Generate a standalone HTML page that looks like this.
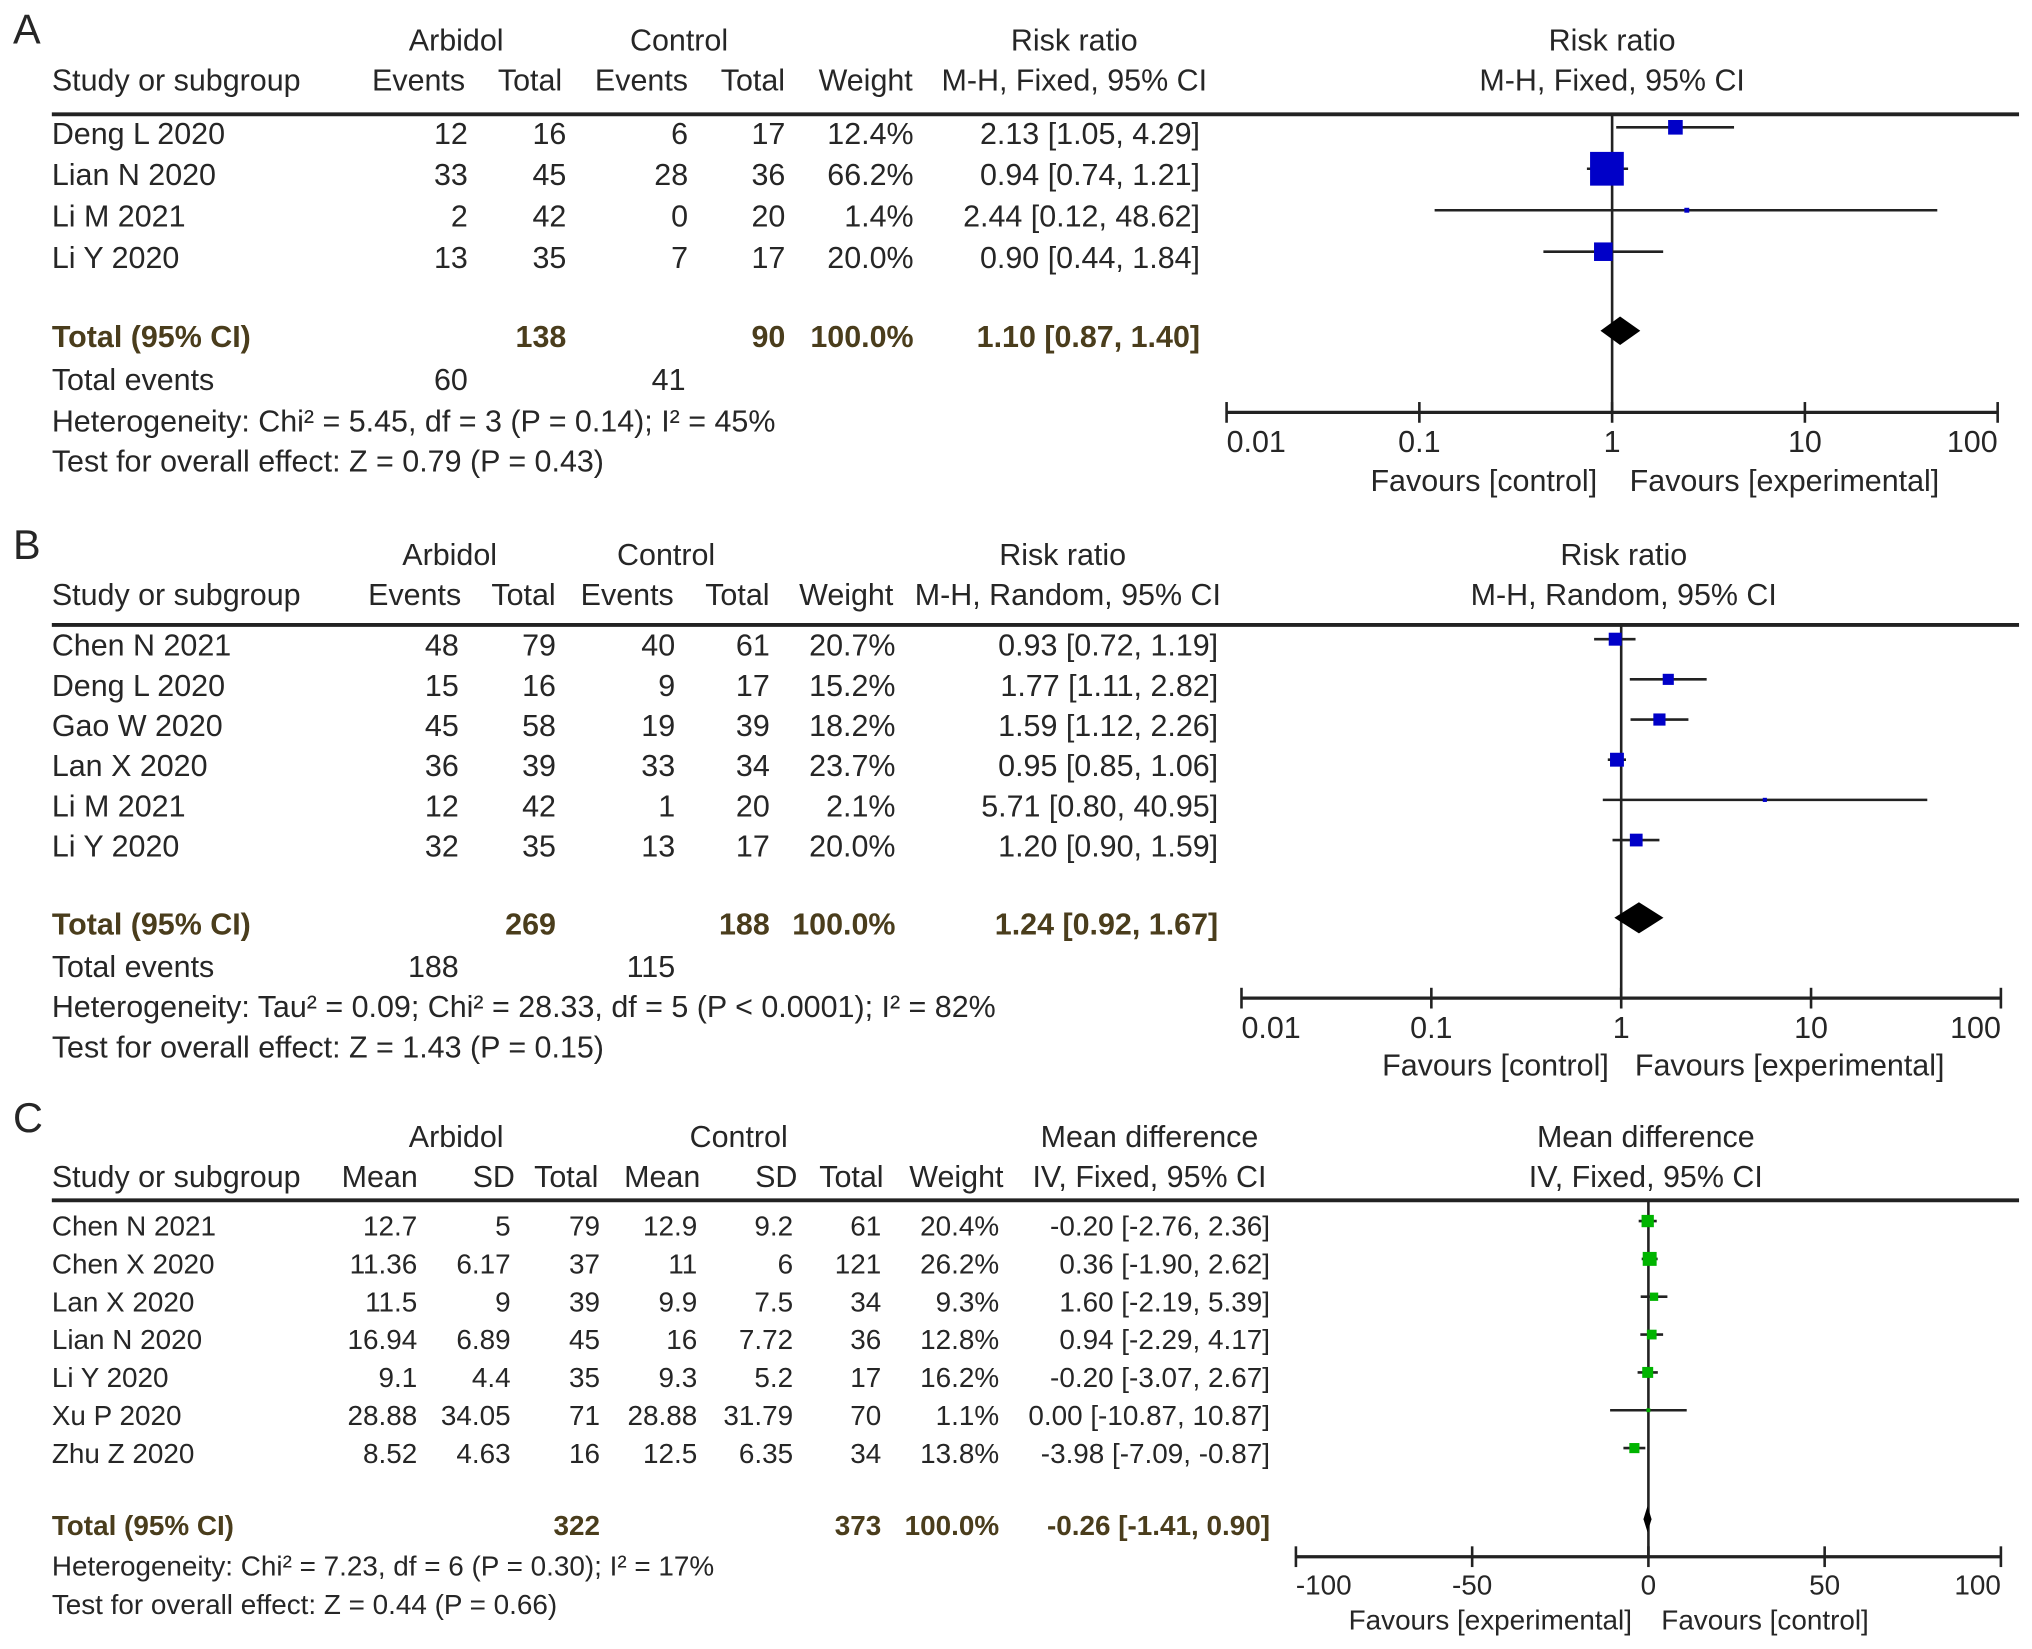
<!DOCTYPE html>
<html><head><meta charset="utf-8"><style>
html,body{margin:0;padding:0;background:#fff;}
svg{display:block;}
text{font-family:"Liberation Sans",Arial,sans-serif;fill:#262626;}
</style></head><body>
<svg id="fig" width="2032" height="1649" viewBox="0 0 1568 1272" xmlns="http://www.w3.org/2000/svg"></svg>
<script>
// Panel A data
const aStudies = ["Deng L 2020","Lian N 2020","Li M 2021","Li Y 2020"];
const aExpEvents = [12,33,2,13];
const aExpTotal = [16,45,42,35];
const aCtlEvents = [6,28,0,7];
const aCtlTotal = [17,36,20,17];
const aWeight = [12.4,66.2,1.4,20.0];
const aEst = [2.13,0.94,2.44,0.90];
const aLo = [1.05,0.74,0.12,0.44];
const aHi = [4.29,1.21,48.62,1.84];
const aTotal = {est:1.10, lo:0.87, hi:1.40};
const aTicks = [0.01,0.1,1,10,100];
// Panel B data
const bStudies = ["Chen N 2021","Deng L 2020","Gao W 2020","Lan X 2020","Li M 2021","Li Y 2020"];
const bExpEvents = [48,15,45,36,12,32];
const bExpTotal = [79,16,58,39,42,35];
const bCtlEvents = [40,9,19,33,1,13];
const bCtlTotal = [61,17,39,34,20,17];
const bWeight = [20.7,15.2,18.2,23.7,2.1,20.0];
const bEst = [0.93,1.77,1.59,0.95,5.71,1.20];
const bLo = [0.72,1.11,1.12,0.85,0.80,0.90];
const bHi = [1.19,2.82,2.26,1.06,40.95,1.59];
const bTotal = {est:1.24, lo:0.92, hi:1.67};
// Panel C data
const cStudies = ["Chen N 2021","Chen X 2020","Lan X 2020","Lian N 2020","Li Y 2020","Xu P 2020","Zhu Z 2020"];
const cExpMean = ["12.7","11.36","11.5","16.94","9.1","28.88","8.52"];
const cExpSD = ["5","6.17","9","6.89","4.4","34.05","4.63"];
const cExpTotal = [79,37,39,45,35,71,16];
const cCtlMean = ["12.9","11","9.9","16","9.3","28.88","12.5"];
const cCtlSD = ["9.2","6","7.5","7.72","5.2","31.79","6.35"];
const cCtlTotal = [61,121,34,36,17,70,34];
const cWeight = [20.4,26.2,9.3,12.8,16.2,1.1,13.8];
const cEst = [-0.20,0.36,1.60,0.94,-0.20,0.00,-3.98];
const cLo = [-2.76,-1.90,-2.19,-2.29,-3.07,-10.87,-7.09];
const cHi = [2.36,2.62,5.39,4.17,2.67,10.87,-0.87];
const cTotal = {est:-0.26, lo:-1.41, hi:0.90};
const cTicks = [-100,-50,0,50,100];

const NS="http://www.w3.org/2000/svg";
const svg=document.getElementById('fig');
const FS=23.5, FC=21.5;
function el(tag,attrs,parent){const e=document.createElementNS(NS,tag);for(const k in attrs)e.setAttribute(k,attrs[k]);(parent||svg).appendChild(e);return e;}
function txt(x,y,s,anchor,opts){opts=opts||{};const t=el('text',{x:x,y:y,'text-anchor':anchor||'start','dominant-baseline':'central','font-size':opts.size||FS});
 if(opts.bold){t.setAttribute('font-weight','bold');t.setAttribute('style','fill:#4a3d1c');}
 t.textContent=s;return t;}
function fmt(v){return v.toFixed(2);}
function ci(e,l,h){return fmt(e)+" ["+fmt(l)+", "+fmt(h)+"]";}

// ---------- Panel A ----------
(function(){
 const t=txt(10,22,"A","start",{size:32});
 
 const heads=[[352,31,"Arbidol"],[524,31,"Control"],[829,31,"Risk ratio"],[1244,31,"Risk ratio"],[323,62,"Events"],[409,62,"Total"],[495,62,"Events"],[581,62,"Total"],[668,62,"Weight"],[829,62,"M-H, Fixed, 95% CI"],[1244,62,"M-H, Fixed, 95% CI"]];
 heads.forEach(h=>{const e=txt(h[0],h[1],h[2],"middle");});
 const s=txt(40,62,"Study or subgroup");
 const r=el('line',{x1:40,y1:88,x2:1558,y2:88,stroke:'#222','stroke-width':3});
 
 const rowY=i=>103+i*32;
 const X0=1244,D=148.75,xs=v=>X0+Math.log10(v)*D;
 const vl=el('line',{x1:X0,y1:88,x2:X0,y2:318,stroke:'#222','stroke-width':2});
 
 aStudies.forEach((n,i)=>{const y=rowY(i);
  const g=el('g',{});
  g.appendChild(txt(40,y,n));
  [[361,aExpEvents[i]],[437,aExpTotal[i]],[531,aCtlEvents[i]],[606,aCtlTotal[i]],[705,aWeight[i].toFixed(1)+"%"],[926,ci(aEst[i],aLo[i],aHi[i])]].forEach(c=>g.appendChild(txt(c[0],y,String(c[1]),"end")));
  const yy=y-5;
  const ln=el('line',{x1:xs(aLo[i]),y1:yy,x2:xs(aHi[i]),y2:yy,stroke:'#222','stroke-width':2});
  
  const sz=Math.max(3,3.2*Math.sqrt(aWeight[i]));
  const sq=el('rect',{x:xs(aEst[i])-sz/2,y:yy-sz/2,width:sz,height:sz,fill:'#0000c8'});
  
 });
 const ty=260;
 txt(40,ty,"Total (95% CI)","start",{bold:1});
 txt(437,ty,"138","end",{bold:1});txt(606,ty,"90","end",{bold:1});txt(705,ty,"100.0%","end",{bold:1});
 txt(926,ty,ci(aTotal.est,aTotal.lo,aTotal.hi),"end",{bold:1});
 const dy=255;
 const dm=el('polygon',{points:`${xs(aTotal.lo)},${dy} ${xs(aTotal.est)},${dy-11} ${xs(aTotal.hi)},${dy} ${xs(aTotal.est)},${dy+11}`,fill:'#000'});
 
 txt(40,293,"Total events");txt(361,293,"60","end");txt(529,293,"41","end");
 txt(40,325,"Heterogeneity: Chi² = 5.45, df = 3 (P = 0.14); I² = 45%");
 txt(40,356,"Test for overall effect: Z = 0.79 (P = 0.43)");
 const ax=el('line',{x1:xs(0.01),y1:318,x2:xs(100),y2:318,stroke:'#222','stroke-width':2.5});
 
 aTicks.forEach((v,k)=>{el('line',{x1:xs(v),y1:310,x2:xs(v),y2:326,stroke:'#222','stroke-width':2});
  const l=txt(xs(v),341,String(v),k==0?"start":(k==aTicks.length-1?"end":"middle"));});
 txt(1145,371,"Favours [control]","middle");txt(1377,371,"Favours [experimental]","middle");
})();

// ---------- Panel B ----------
(function(){
 const t=txt(10,420,"B","start",{size:32});
 
 [[347,428,"Arbidol"],[514,428,"Control"],[820,428,"Risk ratio"],[1253,428,"Risk ratio"],[320,459,"Events"],[404,459,"Total"],[484,459,"Events"],[569,459,"Total"],[653,459,"Weight"],[824,459,"M-H, Random, 95% CI"],[1253,459,"M-H, Random, 95% CI"]].forEach(h=>{const e=txt(h[0],h[1],h[2],"middle");});
 txt(40,459,"Study or subgroup");
 const r=el('line',{x1:40,y1:482,x2:1558,y2:482,stroke:'#222','stroke-width':3});
 
 const rowY=i=>498+i*31;
 const X0=1251,D=146.5,xs=v=>X0+Math.log10(v)*D;
 el('line',{x1:X0,y1:482,x2:X0,y2:770,stroke:'#222','stroke-width':2});
 bStudies.forEach((n,i)=>{const y=rowY(i);
  const g=el('g',{});
  g.appendChild(txt(40,y,n));
  [[354,bExpEvents[i]],[429,bExpTotal[i]],[521,bCtlEvents[i]],[594,bCtlTotal[i]],[691,bWeight[i].toFixed(1)+"%"],[940,ci(bEst[i],bLo[i],bHi[i])]].forEach(c=>g.appendChild(txt(c[0],y,String(c[1]),"end")));
  const yy=y-5;
  const ln=el('line',{x1:xs(bLo[i]),y1:yy,x2:xs(bHi[i]),y2:yy,stroke:'#222','stroke-width':2});
  
  const sz=Math.max(3,2.2*Math.sqrt(bWeight[i]));
  const sq=el('rect',{x:xs(bEst[i])-sz/2,y:yy-sz/2,width:sz,height:sz,fill:'#0000c8'});
  
 });
 const ty=713;
 txt(40,ty,"Total (95% CI)","start",{bold:1});
 txt(429,ty,"269","end",{bold:1});txt(594,ty,"188","end",{bold:1});txt(691,ty,"100.0%","end",{bold:1});
 txt(940,ty,ci(bTotal.est,bTotal.lo,bTotal.hi),"end",{bold:1});
 const dy=708;
 const dm=el('polygon',{points:`${xs(bTotal.lo)},${dy} ${xs(bTotal.est)},${dy-12} ${xs(bTotal.hi)},${dy} ${xs(bTotal.est)},${dy+12}`,fill:'#000'});
 
 txt(40,746,"Total events");txt(354,746,"188","end");txt(521,746,"115","end");
 txt(40,777,"Heterogeneity: Tau² = 0.09; Chi² = 28.33, df = 5 (P < 0.0001); I² = 82%");
 txt(40,808,"Test for overall effect: Z = 1.43 (P = 0.15)");
 const ax=el('line',{x1:xs(0.01),y1:770,x2:xs(100),y2:770,stroke:'#222','stroke-width':2.5});
 
 aTicks.forEach((v,k)=>{el('line',{x1:xs(v),y1:762,x2:xs(v),y2:778,stroke:'#222','stroke-width':2});
  const l=txt(xs(v),793,String(v),k==0?"start":(k==aTicks.length-1?"end":"middle"));});
 txt(1154,822,"Favours [control]","middle");txt(1381,822,"Favours [experimental]","middle");
})();

// ---------- Panel C ----------
(function(){
 const t=txt(10,862,"C","start",{size:32});
 
 [[352,877,"Arbidol"],[570,877,"Control"],[887,877,"Mean difference"],[1270,877,"Mean difference"],[293,908,"Mean"],[381,908,"SD"],[437,908,"Total"],[511,908,"Mean"],[599,908,"SD"],[657,908,"Total"],[738,908,"Weight"],[887,908,"IV, Fixed, 95% CI"],[1270,908,"IV, Fixed, 95% CI"]].forEach(h=>{const e=txt(h[0],h[1],h[2],"middle");});
 txt(40,908,"Study or subgroup");
 const r=el('line',{x1:40,y1:926,x2:1558,y2:926,stroke:'#222','stroke-width':3});
 
 const rowY=i=>946+i*29.2;
 const X0=1272,D=2.72,xs=v=>X0+v*D;
 el('line',{x1:X0,y1:926,x2:X0,y2:1201,stroke:'#222','stroke-width':2});
 cStudies.forEach((n,i)=>{const y=rowY(i);
  const g=el('g',{});
  g.appendChild(txt(40,y,n,"start",{size:FC}));
  [[322,cExpMean[i]],[394,cExpSD[i]],[463,cExpTotal[i]],[538,cCtlMean[i]],[612,cCtlSD[i]],[680,cCtlTotal[i]],[771,cWeight[i].toFixed(1)+"%"],[980,ci(cEst[i],cLo[i],cHi[i])]].forEach(c=>g.appendChild(txt(c[0],y,String(c[1]),"end",{size:FC})));
  const yy=y-4;
  const ln=el('line',{x1:xs(cLo[i]),y1:yy,x2:xs(cHi[i]),y2:yy,stroke:'#222','stroke-width':2});
  
  const sz=Math.max(3,2.1*Math.sqrt(cWeight[i]));
  const sq=el('rect',{x:xs(cEst[i])-sz/2,y:yy-sz/2,width:sz,height:sz,fill:'#00b400'});
  
 });
 const ty=1177;
 txt(40,ty,"Total (95% CI)","start",{bold:1,size:FC});
 txt(463,ty,"322","end",{bold:1,size:FC});txt(680,ty,"373","end",{bold:1,size:FC});txt(771,ty,"100.0%","end",{bold:1,size:FC});
 txt(980,ty,ci(cTotal.est,cTotal.lo,cTotal.hi),"end",{bold:1,size:FC});
 const dy=1172;
 const dm=el('polygon',{points:`${xs(cTotal.lo)},${dy} ${xs(cTotal.est)},${dy-10} ${xs(cTotal.hi)},${dy} ${xs(cTotal.est)},${dy+10}`,fill:'#000'});
 
 txt(40,1208,"Heterogeneity: Chi² = 7.23, df = 6 (P = 0.30); I² = 17%","start",{size:FC});
 txt(40,1238,"Test for overall effect: Z = 0.44 (P = 0.66)","start",{size:FC});
 const ax=el('line',{x1:xs(-100),y1:1201,x2:xs(100),y2:1201,stroke:'#222','stroke-width':2.5});
 
 cTicks.forEach((v,k)=>{el('line',{x1:xs(v),y1:1193,x2:xs(v),y2:1209,stroke:'#222','stroke-width':2});
  const l=txt(xs(v),1223,String(v),k==0?"start":(k==cTicks.length-1?"end":"middle"),{size:FC});});
 txt(1150,1250,"Favours [experimental]","middle",{size:FC});txt(1362,1250,"Favours [control]","middle",{size:FC});
})();
</script>
</body></html>
